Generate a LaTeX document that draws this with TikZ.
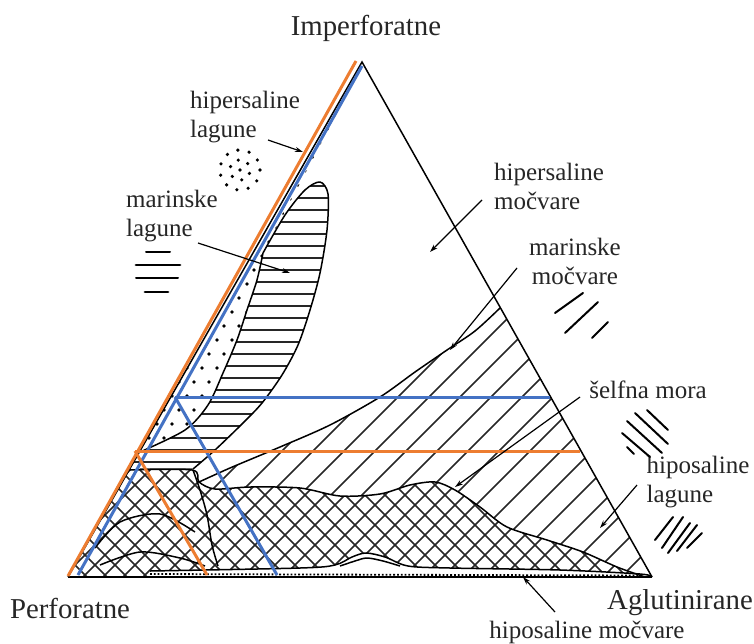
\documentclass[tikz,border=0pt]{standalone}
\usepackage{fontspec}
\setmainfont{Liberation Serif}
\usetikzlibrary{positioning, arrows.meta}
\definecolor{orng}{RGB}{237,125,49}
\definecolor{blu}{RGB}{68,114,196}
\tikzset{
  lbl/.style={font=\fontsize{12.5}{14.5}\selectfont, text=black!85, inner sep=0pt, align=left},
  corner/.style={font=\fontsize{14.4}{16}\selectfont, text=black!85, inner sep=0pt},
  hatch/.style={line width=0.75pt, black!85},
  edge/.style={line width=0.75pt},
  pointer/.style={line width=0.6pt, -{Stealth[length=4pt,width=2.5pt]}},
  sym/.style={line width=1pt, line cap=round},
  oline/.style={orng, line width=1.5pt},
  bline/.style={blu, line width=1.5pt}
}

\begin{document}
\begin{tikzpicture}[x=0.5pt,y=-0.5pt]
		\useasboundingbox (0,0) rectangle (754,643);
		\coordinate (P) at (68,577);
		\coordinate (I) at (362,62);
		\coordinate (A) at (652,577);
		% dotted strip
		\begin{scope}
			\clip (I) -- (140,452) -- plot[smooth] coordinates {(140,452) (185,430) (208,405) (223,373) (237,340) (247,310) (257,280) (263,253)} -- (359,72) -- cycle;
			\foreach \y in {60,74,...,470} \foreach \x in {110,125,...,370} \fill ({\x+mod(\y,28)/2+mod(\x*7,5)},\y) circle (1.8);
		\end{scope}
		% horizontal lobe
		\begin{scope}
			\clip plot[smooth] coordinates {(263,253) (285,215) (305,190) (320,182) (328,194) (327,230) (320,273) (310,310) (298,345) (282,375) (262,403) (243,423) (215,450) (193,469)} -- (129,470) -- (140,452) -- plot[smooth] coordinates {(140,452) (185,430) (208,405) (223,373) (237,340) (247,310) (257,280) (263,253)} -- cycle;
			\foreach \y in {186,198,...,470} \draw[hatch] (110,\y) -- (340,\y);
		\end{scope}
		% single hatch
		\begin{scope}
			\clip plot[smooth] coordinates {(199,482) (230,468) (280,447) (330,425) (380,397) (415,372) (447,350) (475,331) (500,308)} -- (A) -- plot[smooth] coordinates {(645,577) (617,567) (583,552) (547,540) (507,527) (480,507) (455,490) (435,482) (410,485) (380,494) (340,496) (300,488) (250,487) (215,489) (199,482)} -- cycle;
			\foreach \x in {40,71,...,660} \draw[hatch] (\x,600) -- ++(650,-650);
		\end{scope}
		% cross hatch
		\begin{scope}
			\clip plot[smooth] coordinates {(129,470) (192,470) (199,482) (215,489) (250,487) (300,488) (340,496) (380,494) (410,485) (435,482) (455,490) (480,507) (507,527) (547,540) (583,552) (617,567) (645,577)} -- (A) -- (P) -- cycle;
			\foreach \x in {-40,-20,...,660} \draw[hatch] (\x,600) -- ++(650,-650);
			\foreach \x in {70,90,...,720} \draw[hatch] (\x,600) -- ++(-650,-650);
		\end{scope}
		% bottom strip
		\fill[white] plot[smooth] coordinates {(150,571) (300,568) (335,565) (352,557) (366,553) (385,557) (408,566) (450,568) (560,570) (640,574) (652,577)} -- (150,577) -- cycle;
		\draw[edge] plot[smooth] coordinates {(150,571) (300,568) (335,565) (352,557) (366,553) (385,557) (408,566) (450,568) (560,570) (640,574) (652,577)};
		\draw[densely dotted, line width=0.9pt] (150,574) -- (640,575.5);
		\draw[edge] plot[smooth] coordinates {(340,566) (355,561) (367,558) (383,561) (400,566)};
		% outlines
		\draw[edge] plot[smooth] coordinates {(263,253) (285,215) (305,190) (320,182) (328,194) (327,230) (320,273) (310,310) (298,345) (282,375) (262,403) (243,423) (215,450) (193,469)};
		\draw[edge] plot[smooth] coordinates {(140,452) (185,430) (208,405) (223,373) (237,340) (247,310) (257,280) (263,253)};
		\draw[line width=1.4pt, black!55] (140,469) -- (193,469);
		\draw[edge] plot[smooth] coordinates {(199,482) (230,468) (280,447) (330,425) (380,397) (415,372) (447,350) (475,331) (500,308)};
		\draw[edge] plot[smooth] coordinates {(129,470) (192,470) (199,482) (215,489) (250,487) (300,488) (340,496) (380,494) (410,485) (435,482) (455,490) (480,507) (507,527) (547,540) (583,552) (617,567) (645,577)};
		\draw[edge] plot[smooth] coordinates {(193,470) (200,490) (207,515) (212,545) (218,566)};
		\draw[edge] plot[smooth] coordinates {(95,548) (120,522) (160,514) (195,532)};
		\draw[edge] plot[smooth] coordinates {(100,565) (140,552) (180,558) (205,566)};
		\draw[edge] (P) -- (I) -- (A);
		\draw[line width=1.3pt] (P) -- (A);
		% colored lines
		\draw[oline] (68,576) -- (356,61);
		\draw[bline] (78,575) -- (362,66);
		\draw[bline] (175,397) -- (550,397);
		\draw[bline] (175,397) -- (277,575);
		\draw[oline] (135,451) -- (580,451);
		\draw[oline] (135,451) -- (207,575);
		% labels
		\node[corner] (imp) at (366,28) {Imperforatne};
		\node[corner] (perf) at (70,608) {Perforatne};
		\node[corner] (aglu) at (680,603) {Aglutinirane};
		\node[lbl] (hm) at (587,632) {hiposaline močvare};
		\node[lbl] (hl) at (245,117) {hipersaline\\lagune};
		\node[lbl] (ml) at (172,216) {marinske\\lagune};
		\node[lbl] (hpm) at (549,186) {hipersaline\\močvare};
		\node[lbl, align=center] (mm) at (575,261) {marinske\\močvare};
		\node[lbl] (sm) at (648,390) {šelfna mora};
		\node[lbl] (hpl) at (698,482) {hiposaline\\lagune};
		% pointers
		\coordinate (hl0) at (268,140);  \coordinate (hl1) at (303,152);
		\coordinate (ml0) at (198,243);  \coordinate (ml1) at (290,273);
		\coordinate (hpm0) at (482,200); \coordinate (hpm1) at (430,252);
		\coordinate (mm0) at (517,268);  \coordinate (mm1) at (450,350);
		\coordinate (sm0) at (580,397);  \coordinate (sm1) at (455,487);
		\coordinate (hpl0) at (637,485); \coordinate (hpl1) at (600,528);
		\coordinate (hm0) at (555,612);  \coordinate (hm1) at (523,577);
		\draw[pointer] (hl0) -- (hl1);
		\draw[pointer] (ml0) -- (ml1);
		\draw[pointer] (hpm0) -- (hpm1);
		\draw[pointer] (mm0) -- (mm1);
		\draw[pointer] (sm0) -- (sm1);
		\draw[pointer] (hpl0) -- (hpl1);
		\draw[pointer] (hm0) -- (hm1);
		% symbols
		\fill (240,170) circle (1.8);
		\foreach \a in {0,60,...,300} \fill (240,170) ++(\a+20:10) circle (1.8);
		\foreach \a in {0,33,...,330} \fill (240,170) ++(\a:20) circle (1.8);
		\draw[sym] (146,252) -- (170,252);
		\draw[sym, line width=1.4pt] (136,265) -- (180,265);
		\draw[sym] (136,278) -- (178,278);
		\draw[sym, line width=1.4pt] (145,292) -- (168,292);
		\draw[sym] (555,313) -- (583,293);
		\draw[sym] (565,333) -- (598,302);
		\draw[sym] (592,338) -- (608,322);
		\draw[sym] (647,410) -- (668,430);
		\draw[sym] (635,413) -- (668,444);
		\draw[sym] (627,421) -- (662,453);
		\draw[sym] (622,433) -- (650,457);
		\draw[sym] (627,447) -- (634,454);
		\draw[sym] (655,540) -- (673,517);
		\draw[sym] (662,548) -- (683,517);
		\draw[sym] (668,553) -- (690,523);
		\draw[sym] (677,551) -- (697,525);
		\draw[sym] (687,548) -- (702,533);
\end{tikzpicture}
\end{document}
